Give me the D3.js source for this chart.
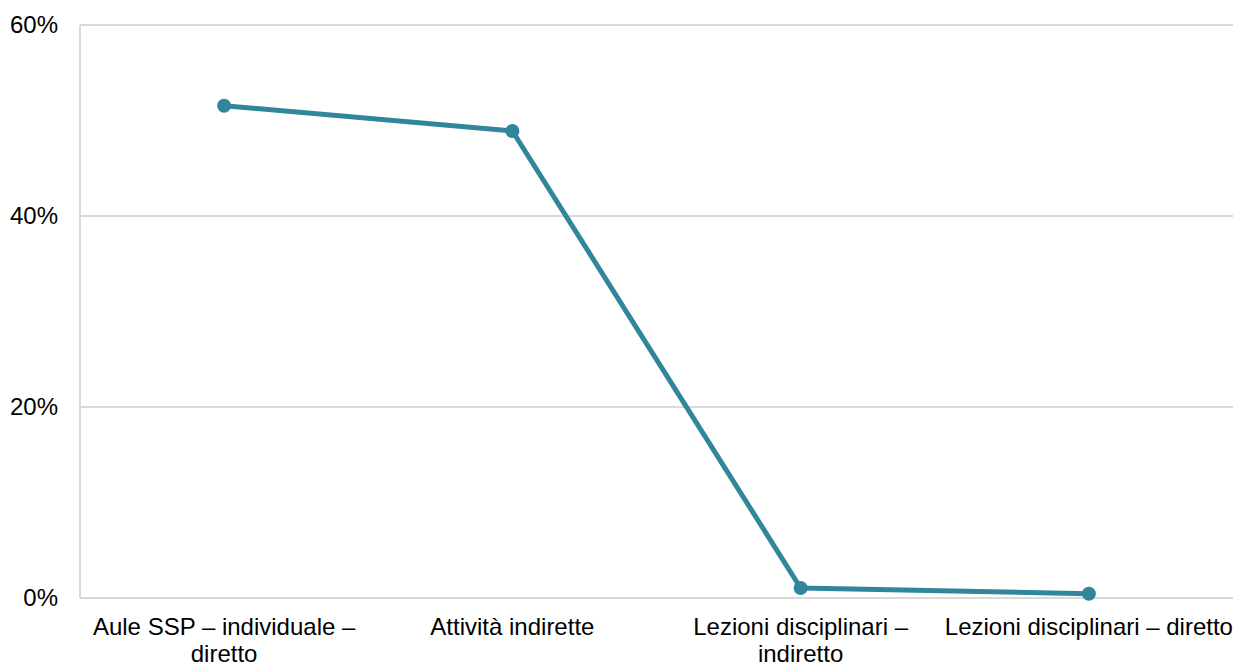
<!DOCTYPE html>
<html>
<head>
<meta charset="utf-8">
<script src="https://cdn.jsdelivr.net/npm/d3@7"></script>
<style>
  body { margin: 0; background: #fff; }
  text { font-family: "Liberation Sans", Arial, sans-serif; fill: #000; }
</style>
</head>
<body>
<div id="chart"></div>
<script>
// chart data
const categories = [
  "Aule SSP – individuale –\ndiretto",
  "Attività indirette",
  "Lezioni disciplinari –\nindiretto",
  "Lezioni disciplinari – diretto"
];
const values = [51.55, 48.9, 1.05, 0.45];
const yTicks = [0, 20, 40, 60];

const chartWidth = 1236, chartHeight = 665;
const margin = { top: 25, right: 3, bottom: 67, left: 80 };
const width = chartWidth - margin.left - margin.right;
const height = chartHeight - margin.top - margin.bottom;
const lineColor = "#31869b";
const fontSize = "24px";

const svg = d3.select("#chart").append("svg")
  .attr("width", chartWidth)
  .attr("height", chartHeight);

const g = svg.append("g")
  .attr("transform", "translate(" + margin.left + "," + margin.top + ")");

const x = d3.scaleBand().domain(categories).range([0, width]);
const y = d3.scaleLinear().domain([0, 60]).range([height, 0]);

// horizontal gridlines
g.append("g")
  .selectAll("line")
  .data(yTicks)
  .enter()
  .append("line")
  .attr("x1", 0)
  .attr("x2", width)
  .attr("y1", d => y(d))
  .attr("y2", d => y(d))
  .attr("stroke", "#d9d9d9")
  .attr("stroke-width", 2);

// left axis line
g.append("line")
  .attr("x1", 0).attr("x2", 0)
  .attr("y1", 0).attr("y2", height)
  .attr("stroke", "#d9d9d9")
  .attr("stroke-width", 2);

// y-axis labels
const yAxis = g.append("g")
  .call(d3.axisLeft(y).tickValues(yTicks).tickFormat(d => d + "%").tickSize(0).tickPadding(22));
yAxis.select(".domain").remove();
yAxis.selectAll("text")
  .style("font-family", '"Liberation Sans", Arial, sans-serif')
  .style("font-size", fontSize)
  .attr("fill", "#000");

// x-axis labels (multi-line)
const xLabels = g.append("g")
  .attr("transform", "translate(0," + height + ")");
xLabels.selectAll("text")
  .data(categories)
  .enter()
  .append("text")
  .attr("x", d => x(d) + x.bandwidth() / 2)
  .attr("y", 37)
  .attr("text-anchor", "middle")
  .style("font-size", fontSize)
  .each(function (d) {
    const lines = d.split("\n");
    const t = d3.select(this);
    lines.forEach((ln, i) => {
      t.append("tspan")
        .attr("x", x(d) + x.bandwidth() / 2)
        .attr("dy", i === 0 ? 0 : 27)
        .text(ln);
    });
  });

// line
const data = categories.map((c, i) => ({ c: c, v: values[i] }));
const line = d3.line()
  .x(d => x(d.c) + x.bandwidth() / 2)
  .y(d => y(d.v));

g.append("path")
  .datum(data)
  .attr("fill", "none")
  .attr("stroke", lineColor)
  .attr("stroke-width", 5)
  .attr("stroke-linejoin", "round")
  .attr("d", line);

g.selectAll(".dot")
  .data(data)
  .enter()
  .append("circle")
  .attr("class", "dot")
  .attr("cx", d => x(d.c) + x.bandwidth() / 2)
  .attr("cy", d => y(d.v))
  .attr("r", 7)
  .attr("fill", lineColor);
</script>
</body>
</html>
